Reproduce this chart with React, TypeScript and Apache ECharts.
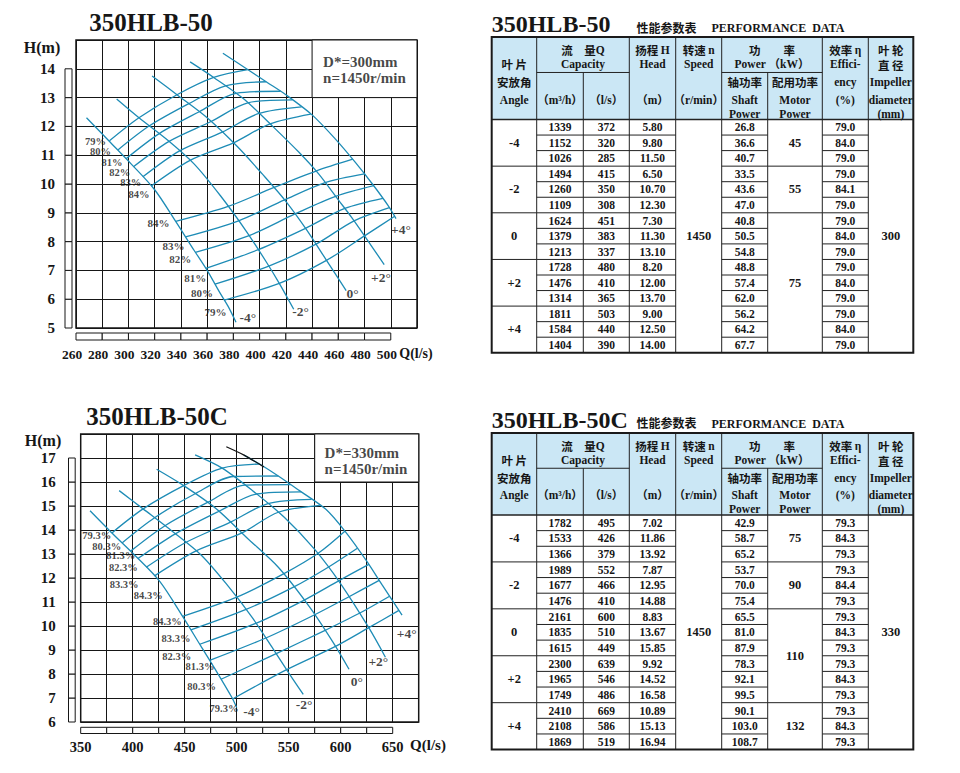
import React, { useEffect, useRef } from 'react';
import * as echarts from 'echarts';

const BLUE = '#1e8cb6';
const INK = '#161616';
const SERIF = '"Liberation Serif", "Times New Roman", "DejaVu Serif", serif';
const CJK = '"Noto Sans CJK SC", "Noto Sans", sans-serif';

/* ================= Chart 1 : 350HLB-50 ================= */
const c1Title = '350HLB-50';
const c1Legend = ['D*=300mm', 'n=1450r/min'];
const c1LegendAt = [[448, 14.22], [448, 13.68]];
const c1LegendBox = [[440, 13], [520, 15]];
const c1XRuler = [260, 280, 300, 320, 340, 360, 380, 400, 420, 440, 460, 480, 500];
const c1YRuler = [5, 6, 7, 8, 9, 10, 11, 12, 13, 14];

const c1BladeM4 = [[268, 12.3], [285, 11.5], [302, 10.7], [320, 9.8], [336, 8.7], [350, 7.7], [360, 7.0], [370, 6.2], [376, 5.75], [382, 5.2]];
const c1BladeM2 = [[291, 12.95], [308, 12.3], [330, 11.52], [350, 10.7], [370, 9.6], [390, 8.35], [405, 7.3], [415, 6.55], [426, 5.65]];
const c1Blade0 = [[318, 13.75], [337, 13.1], [360, 12.3], [383, 11.3], [402, 10.35], [420, 9.4], [436, 8.4], [451, 7.35], [466, 6.3]];
const c1BladeP2 = [[347, 14.24], [365, 13.7], [388, 12.95], [410, 12.0], [430, 11.1], [445, 10.35], [460, 9.45], [470, 8.85], [480, 8.2], [495, 7.2]];
const c1BladeP4 = [[372, 14.54], [390, 14.0], [405, 13.55], [420, 13.1], [440, 12.4], [458, 11.55], [473, 10.75], [486, 10.0], [498, 9.25], [504, 8.8]];
const c1Blades = [c1BladeM4, c1BladeM2, c1Blade0, c1BladeP2, c1BladeP4];
const c1BladeNames = ['-4°', '-2°', '0°', '+2°', '+4°'];
const c1BladeLabelAt = [[391, 5.35], [431.3, 5.57], [470.8, 6.2], [492.5, 6.76], [507.8, 8.43]];

const c1EffU79 = [[285.5, 11.5], [308, 12.3], [337, 13.1], [365, 13.7], [391, 13.97]];
const c1EffU80 = [[291.9, 11.18], [316, 12.02], [346, 12.79], [374, 13.41], [405, 13.55]];
const c1EffU81 = [[298.2, 10.88], [323.5, 11.75], [354, 12.51], [382, 13.15], [416, 13.22]];
const c1EffU82 = [[303.8, 10.6], [331, 11.48], [363, 12.17], [391, 12.82], [425, 12.92]];
const c1EffU83 = [[311, 10.25], [339, 11.15], [371.5, 11.8], [399.5, 12.45], [432, 12.68]];
const c1EffU84 = [[317.4, 9.93], [347, 10.82], [380, 11.43], [408, 12.09], [439, 12.43]];
const c1EffUpper = [c1EffU79, c1EffU80, c1EffU81, c1EffU82, c1EffU83, c1EffU84];
const c1EffUpperNames = ['79%', '80%', '81%', '82%', '83%', '84%'];
const c1EffUpperLabelAt = [[274.9, 11.49], [278.7, 11.13], [287.5, 10.76], [293.3, 10.4], [301.7, 10.05], [308, 9.65]];

const c1EffL84 = [[336, 8.7], [376, 9.22], [411, 9.88], [443, 10.45], [471, 10.86]];
const c1EffL83 = [[343.5, 8.16], [384, 8.72], [419, 9.45], [450, 10.05], [480, 10.35]];
const c1EffL82 = [[351, 7.63], [392, 8.21], [427, 8.96], [458, 9.57], [487, 9.94]];
const c1EffL81 = [[359, 7.07], [399, 7.72], [435, 8.46], [465, 9.15], [494, 9.5]];
const c1EffL80 = [[366, 6.52], [407, 7.15], [443, 7.91], [472, 8.72], [499, 9.18]];
const c1EffL79 = [[373, 5.97], [415, 6.55], [451, 7.35], [480, 8.2], [503, 8.88]];
const c1EffLower = [c1EffL84, c1EffL83, c1EffL82, c1EffL81, c1EffL80, c1EffL79];
const c1EffLowerNames = ['84%', '83%', '82%', '81%', '80%', '79%'];
const c1EffLowerLabelAt = [[322.9, 8.66], [334.4, 7.85], [339.5, 7.39], [351, 6.73], [356.1, 6.23], [366.3, 5.57]];

/* ================= Chart 2 : 350HLB-50C ================= */
const c2Title = '350HLB-50C';
const c2Legend = ['D*=330mm', 'n=1450r/min'];
const c2LegendAt = [[584, 17.21], [584, 16.54]];
const c2LegendBox = [[575, 16], [675, 18]];
const c2XRuler = [350, 375, 400, 425, 450, 475, 500, 525, 550, 575, 600, 625, 650];
const c2YRuler = [6, 7, 8, 9, 10, 11, 12, 13, 14, 15, 16, 17];

const c2BladeM4 = [[359, 14.8], [379, 13.92], [402, 12.95], [426, 11.86], [448, 10.4], [465, 9.2], [480, 8.15], [495, 7.05], [500, 6.6]];
const c2BladeM2 = [[387, 15.64], [410, 14.88], [438, 13.95], [466, 12.95], [492, 11.65], [515, 10.35], [535, 9.05], [550, 8.05], [564, 7.15]];
const c2Blade0 = [[423, 16.53], [449, 15.85], [480, 14.9], [510, 13.67], [540, 12.45], [570, 10.8], [593, 9.3], [608, 8.2]];
const c2BladeP2 = [[460, 17.13], [486, 16.58], [515, 15.65], [546, 14.52], [575, 13.19], [600, 11.76], [627, 9.93], [643, 8.7]];
const c2BladeP4 = [[507, 17.12], [522, 16.75], [540, 16.25], [560, 15.65], [586, 14.85], [605, 13.9], [625, 12.7], [640, 11.7], [659, 10.45]];
const c2Blades = [c2BladeM4, c2BladeM2, c2Blade0, c2BladeP2, c2BladeP4];
const c2BladeTop = [[490, 17.47], [507, 17.12], [526, 16.63]];
const c2BladeNames = ['-4°', '-2°', '0°', '+2°', '+4°'];
const c2BladeLabelAt = [[514.4, 6.43], [564.7, 6.71], [615.4, 7.68], [636.2, 8.51], [663.5, 9.7]];

const c2EffU79 = [[380, 13.88], [410, 14.88], [449, 15.85], [486, 16.58], [522, 16.75]];
const c2EffU80 = [[390, 13.47], [421, 14.51], [460, 15.51], [497, 16.23], [540, 16.25]];
const c2EffU81 = [[398, 13.12], [431, 14.18], [472, 15.15], [508, 15.87], [552, 15.89]];
const c2EffU82 = [[405, 12.81], [441, 13.84], [483, 14.78], [519, 15.5], [562, 15.59]];
const c2EffU83 = [[413, 12.45], [451, 13.48], [494, 14.33], [530, 15.1], [572, 15.28]];
const c2EffU84 = [[421, 12.09], [461, 13.13], [505, 13.88], [540, 14.74], [580, 15.03]];
const c2EffUpper = [c2EffU79, c2EffU80, c2EffU81, c2EffU82, c2EffU83, c2EffU84];
const c2EffUpperNames = ['79.3%', '80.3%', '81.3%', '82.3%', '83.3%', '84.3%'];
const c2EffUpperLabelAt = [[365.4, 13.78], [375, 13.33], [388.5, 12.93], [391, 12.42], [391.8, 11.72], [415, 11.26]];

const c2EffL84 = [[448, 10.4], [500, 11.2], [545, 12.17], [578, 13.02], [604, 13.95]];
const c2EffL83 = [[456, 9.84], [509, 10.69], [555, 11.63], [588, 12.45], [616, 13.24]];
const c2EffL82 = [[464.5, 9.24], [519, 10.12], [565, 11.08], [598, 11.88], [627, 12.57]];
const c2EffL81 = [[474, 8.57], [528, 9.5], [575, 10.47], [608, 11.22], [637, 11.9]];
const c2EffL80 = [[485, 7.78], [538, 8.85], [585, 9.82], [618, 10.53], [647, 11.24]];
const c2EffL79 = [[496, 6.96], [548, 8.18], [595, 9.15], [627, 9.93], [656, 10.65]];
const c2EffLower = [c2EffL84, c2EffL83, c2EffL82, c2EffL81, c2EffL80, c2EffL79];
const c2EffLowerNames = ['84.3%', '83.3%', '82.3%', '81.3%', '80.3%', '79.3%'];
const c2EffLowerLabelAt = [[433.3, 10.18], [441.6, 9.49], [442.3, 8.72], [464.7, 8.3], [466.3, 7.47], [487.8, 6.57]];

/* ================= Tables ================= */
const tAngles = ['-4', '-2', '0', '+2', '+4'];

const t1Title = '350HLB-50';
const t1FlowM3h = ['1339', '1152', '1026', '1494', '1260', '1109', '1624', '1379', '1213', '1728', '1476', '1314', '1811', '1584', '1404'];
const t1FlowLs = ['372', '320', '285', '415', '350', '308', '451', '383', '337', '480', '410', '365', '503', '440', '390'];
const t1Head = ['5.80', '9.80', '11.50', '6.50', '10.70', '12.30', '7.30', '11.30', '13.10', '8.20', '12.00', '13.70', '9.00', '12.50', '14.00'];
const t1Shaft = ['26.8', '36.6', '40.7', '33.5', '43.6', '47.0', '40.8', '50.5', '54.8', '48.8', '57.4', '62.0', '56.2', '64.2', '67.7'];
const t1Eff = ['79.0', '84.0', '79.0', '79.0', '84.1', '79.0', '79.0', '84.0', '79.0', '79.0', '84.0', '79.0', '79.0', '84.0', '79.0'];
const t1Motor = ['45', '55', '75'];
const t1MotorRows = [3, 3, 9];
const t1Speed = '1450';
const t1Impeller = '300';

const t2Title = '350HLB-50C';
const t2FlowM3h = ['1782', '1533', '1366', '1989', '1677', '1476', '2161', '1835', '1615', '2300', '1965', '1749', '2410', '2108', '1869'];
const t2FlowLs = ['495', '426', '379', '552', '466', '410', '600', '510', '449', '639', '546', '486', '669', '586', '519'];
const t2Head = ['7.02', '11.86', '13.92', '7.87', '12.95', '14.88', '8.83', '13.67', '15.85', '9.92', '14.52', '16.58', '10.89', '15.13', '16.94'];
const t2Shaft = ['42.9', '58.7', '65.2', '53.7', '70.0', '75.4', '65.5', '81.0', '87.9', '78.3', '92.1', '99.5', '90.1', '103.0', '108.7'];
const t2Eff = ['79.3', '84.3', '79.3', '79.3', '84.4', '79.3', '79.3', '84.3', '79.3', '79.3', '84.3', '79.3', '79.3', '84.3', '79.3'];
const t2Motor = ['75', '90', '110', '132'];
const t2MotorRows = [3, 3, 6, 3];
const t2Speed = '1450';
const t2Impeller = '330';

/* ---------- helpers ---------- */
const TCOLS = [491.7, 536.7, 583.3, 629.3, 675.7, 721.7, 767.7, 822.3, 868.3, 913.3];
const F_DATA = `bold 11.5px ${SERIF}`;
const F_EN = `bold 11.5px ${SERIF}, "Noto Sans CJK SC"`;
const F_CN = `bold 11.5px ${CJK}`;

function gText(x: number, y: number, text: string, font: string, align = 'center'): any {
  return { type: 'text', x, y, silent: true, style: { text, font, fill: INK, align, verticalAlign: 'middle' } };
}
function gRich(x: number, y: number, cn: string, en: string): any {
  return {
    type: 'text', x, y, silent: true,
    style: {
      text: `{a|${cn}}{b|${en}}`, align: 'center', verticalAlign: 'middle',
      rich: { a: { font: F_CN, fill: INK }, b: { font: F_EN, fill: INK } },
    },
  };
}
function gLine(x1: number, y1: number, x2: number, y2: number, w = 1): any {
  return { type: 'line', silent: true, shape: { x1, y1, x2, y2 }, style: { stroke: '#222', lineWidth: w } };
}

function buildTable(top: number, headBottom: number, rowH: number, titleY: number, title: string,
  m3h: string[], ls: string[], head: string[], shaft: string[], eff: string[],
  motor: string[], motorRows: number[], speed: string, impeller: string): any[] {
  const els: any[] = [];
  const C = TCOLS;
  const left = C[0], right = C[9];
  const dataTop = headBottom;
  const headH = headBottom - top;
  const bottom = dataTop + rowH * 15;
  const innerY = top + headH * 0.43;
  const cx = (i: number) => (C[i] + C[i + 1]) / 2;
  const L = [0.155, 0.325, 0.545, 0.76, 0.93].map((v) => top + v * headH);

  els.push(gText(left, titleY, title, `bold 24px ${SERIF}`, 'left'));
  els.push(gText(636.5, titleY + 3, '性能参数表', `bold 12px ${CJK}`, 'left'));
  els.push(gText(711.5, titleY + 4, 'PERFORMANCE  DATA', `bold 12px ${SERIF}`, 'left'));

  els.push({ type: 'rect', silent: true, shape: { x: left, y: top, width: right - left, height: headH }, style: { fill: '#cbe7f5' } });
  for (let i = 1; i < 9; i++) {
    const y1 = i === 2 || i === 6 ? innerY : top;
    els.push(gLine(C[i], y1, C[i], bottom));
  }
  els.push(gLine(C[1], innerY, C[3], innerY));
  els.push(gLine(C[5], innerY, C[7], innerY));
  els.push(gLine(left, dataTop, right, dataTop, 1.3));
  for (let r = 1; r < 15; r++) {
    const y = dataTop + r * rowH;
    els.push(gLine(C[1], y, C[4], y));
    els.push(gLine(C[5], y, C[6], y));
    els.push(gLine(C[7], y, C[8], y));
    if (r % 3 === 0) els.push(gLine(C[0], y, C[1], y));
  }
  let acc = 0;
  motorRows.forEach((n, i) => {
    acc += n;
    if (i < motorRows.length - 1) els.push(gLine(C[6], dataTop + acc * rowH, C[7], dataTop + acc * rowH));
  });
  els.push({ type: 'rect', silent: true, shape: { x: left, y: top, width: right - left, height: bottom - top }, style: { fill: 'none', stroke: '#1a1a1a', lineWidth: 2 } });

  const capX = (C[1] + C[3]) / 2;
  const powX = (C[5] + C[7]) / 2;
  els.push(gText(cx(0), L[1], '叶 片', F_CN));
  els.push(gText(cx(0), L[2], '安放角', F_CN));
  els.push(gText(cx(0), L[3], 'Angle', F_EN));
  els.push(gRich(capX, L[0], '流　量', 'Q'));
  els.push(gText(capX, L[1], 'Capacity', F_EN));
  els.push(gText(cx(1), L[3], '（m³/h）', F_EN));
  els.push(gText(cx(2), L[3], '（l/s）', F_EN));
  els.push(gRich(cx(3), L[0], '扬程 ', 'H'));
  els.push(gText(cx(3), L[1], 'Head', F_EN));
  els.push(gText(cx(3), L[3], '（m）', F_EN));
  els.push(gRich(cx(4), L[0], '转速 ', 'n'));
  els.push(gText(cx(4), L[1], 'Speed', F_EN));
  els.push(gText(cx(4), L[3], '（r/min）', F_EN));
  els.push(gText(powX, L[0], '功　　率', F_CN));
  els.push(gText(powX, L[1], 'Power （kW）', F_EN));
  els.push(gText(cx(5), L[2], '轴功率', F_CN));
  els.push(gText(cx(5), L[3], 'Shaft', F_EN));
  els.push(gText(cx(5), L[4], 'Power', F_EN));
  els.push(gText(cx(6), L[2], '配用功率', F_CN));
  els.push(gText(cx(6), L[3], 'Motor', F_EN));
  els.push(gText(cx(6), L[4], 'Power', F_EN));
  els.push(gRich(cx(7), L[0], '效率 ', 'η'));
  els.push(gText(cx(7), L[1], 'Effici-', F_EN));
  els.push(gText(cx(7), L[2], 'ency', F_EN));
  els.push(gText(cx(7), L[3], '(%)', F_EN));
  els.push(gText(cx(8), L[0], '叶 轮', F_CN));
  els.push(gText(cx(8), L[1] + 1, '直 径', F_CN));
  els.push(gText(cx(8), L[2], 'Impeller', F_EN));
  els.push(gText(cx(8), L[3], 'diameter', F_EN));
  els.push(gText(cx(8), L[4], '(mm)', F_EN));

  for (let r = 0; r < 15; r++) {
    const y = dataTop + (r + 0.5) * rowH;
    els.push(gText(cx(1), y, m3h[r], F_DATA));
    els.push(gText(cx(2), y, ls[r], F_DATA));
    els.push(gText(cx(3), y, head[r], F_DATA));
    els.push(gText(cx(5), y, shaft[r], F_DATA));
    els.push(gText(cx(7), y, eff[r], F_DATA));
  }
  tAngles.forEach((a, g) => els.push(gText(cx(0), dataTop + (g * 3 + 1.5) * rowH, a, `bold 12.5px ${SERIF}`)));
  els.push(gText(cx(4), dataTop + 7.5 * rowH, speed, `bold 12.5px ${SERIF}`));
  els.push(gText(cx(8), dataTop + 7.5 * rowH, impeller, `bold 12.5px ${SERIF}`));
  let start = 0;
  motor.forEach((m, i) => {
    const n = motorRows[i];
    els.push(gText(cx(6), dataTop + (start + n / 2) * rowH, m, `bold 12.5px ${SERIF}`));
    start += n;
  });
  return els;
}

function curve(data: number[][], gi: number, color = BLUE, width = 1.3, z = 3): any {
  return {
    type: 'line', xAxisIndex: gi, yAxisIndex: gi, data, smooth: 0.3,
    symbol: 'none', showSymbol: false, silent: true, z,
    lineStyle: { color, width },
  };
}

function ruler(gi: number, ticks: number[], dir: 'x' | 'y', fixed: number, off: number, size: number): any {
  const data = ticks.slice(0, -1).map((t, i) => [t, ticks[i + 1]]);
  return {
    type: 'custom', xAxisIndex: gi, yAxisIndex: gi, clip: false, silent: true, data,
    renderItem: (_p: any, api: any) => {
      const a = api.value(0), b = api.value(1);
      if (dir === 'y') {
        const p1 = api.coord([fixed, a]);
        const p2 = api.coord([fixed, b]);
        return { type: 'rect', shape: { x: p1[0] - off - size, y: p2[1], width: size, height: p1[1] - p2[1] }, style: { fill: '#fff', stroke: INK, lineWidth: 1 } };
      }
      const p1 = api.coord([a, fixed]);
      const p2 = api.coord([b, fixed]);
      return { type: 'rect', shape: { x: p1[0], y: p1[1] + off, width: p2[0] - p1[0], height: size }, style: { fill: '#fff', stroke: INK, lineWidth: 1 } };
    },
  };
}

function annotations(gi: number, effSize: number, items: any[], box: number[][]): any {
  return {
    type: 'scatter', xAxisIndex: gi, yAxisIndex: gi, symbolSize: 1, silent: true, z: 6,
    itemStyle: { color: 'transparent' },
    label: {
      show: true, position: 'inside', formatter: (p: any) => p.value[2],
      fontFamily: SERIF, fontWeight: 'bold', fontSize: effSize, color: INK,
    },
    data: items,
    markArea: {
      silent: true,
      itemStyle: { color: '#fff', borderColor: INK, borderWidth: 1 },
      label: { show: false },
      data: [[{ coord: box[0] }, { coord: box[1] }]],
    },
  };
}

function labelItems(at: number[][], names: string[], extra: any = {}) {
  return at.map((p, i) => ({ value: [p[0], p[1], names[i]], label: extra }));
}

function axisFont(size: number) {
  return { fontFamily: SERIF, fontWeight: 'bold', fontSize: size, color: INK };
}

function buildOption(): any {
  const series: any[] = [];
  series.push(ruler(0, c1YRuler, 'y', 260, 4, 7));
  series.push(ruler(0, c1XRuler, 'x', 5, 5, 7));
  series.push(ruler(1, c2YRuler, 'y', 350, 5.5, 6.7));
  series.push(ruler(1, c2XRuler, 'x', 6, 5.3, 6.2));
  c1Blades.forEach((d) => series.push(curve(d, 0)));
  c1EffUpper.forEach((d) => series.push(curve(d, 0)));
  c1EffLower.forEach((d) => series.push(curve(d, 0)));
  c2Blades.forEach((d) => series.push(curve(d, 1)));
  c2EffUpper.forEach((d) => series.push(curve(d, 1)));
  c2EffLower.forEach((d) => series.push(curve(d, 1)));
  series.push(curve(c2BladeTop, 1, '#111', 1.2, 4));

  const legendLabel = { position: 'right', distance: 0, fontSize: 15 };
  const bladeLabel = { fontSize: 13.5 };
  series.push(annotations(0, 10.5, [
    ...labelItems(c1EffUpperLabelAt, c1EffUpperNames),
    ...labelItems(c1EffLowerLabelAt, c1EffLowerNames, { fontSize: 11 }),
    ...labelItems(c1BladeLabelAt, c1BladeNames, bladeLabel),
    ...labelItems(c1LegendAt, c1Legend, legendLabel),
  ], c1LegendBox));
  series.push(annotations(1, 10.5, [
    ...labelItems(c2EffUpperLabelAt, c2EffUpperNames),
    ...labelItems(c2EffLowerLabelAt, c2EffLowerNames),
    ...labelItems(c2BladeLabelAt, c2BladeNames, bladeLabel),
    ...labelItems(c2LegendAt, c2Legend, legendLabel),
  ], c2LegendBox));

  const splitLine = { show: true, lineStyle: { color: INK, width: 1 } };
  const graphic: any[] = [
    gText(151, 22, c1Title, `bold 25px ${SERIF}`),
    gText(157, 416, c2Title, `bold 25px ${SERIF}`),
    gText(42, 47, 'H(m)', `bold 16px ${SERIF}`),
    gText(43, 440, 'H(m)', `bold 16px ${SERIF}`),
    gText(416, 353, 'Q(l/s)', `bold 14px ${SERIF}`),
    gText(428, 745, 'Q(l/s)', `bold 15px ${SERIF}`),
    ...buildTable(37, 119.5, 15.55, 24, t1Title, t1FlowM3h, t1FlowLs, t1Head, t1Shaft, t1Eff, t1Motor, t1MotorRows, t1Speed, t1Impeller),
    ...buildTable(433, 515, 15.64, 419.5, t2Title, t2FlowM3h, t2FlowLs, t2Head, t2Shaft, t2Eff, t2Motor, t2MotorRows, t2Speed, t2Impeller),
  ];

  return {
    animation: false,
    backgroundColor: '#fff',
    grid: [
      { left: 76, top: 40, width: 341, height: 288, show: true, borderColor: INK, borderWidth: 1.5 },
      { left: 80.7, top: 434, width: 338, height: 288, show: true, borderColor: INK, borderWidth: 1.5 },
    ],
    xAxis: [
      {
        type: 'value', gridIndex: 0, min: 260, max: 520, interval: 20,
        axisLine: { show: false }, axisTick: { show: false }, splitLine,
        axisLabel: { margin: 19, padding: [0, 8, 0, 0], formatter: (v: number) => (v <= 500 ? String(v) : ''), ...axisFont(13.5) },
      },
      {
        type: 'value', gridIndex: 1, min: 350, max: 675, interval: 25,
        axisLine: { show: false }, axisTick: { show: false }, splitLine,
        axisLabel: { margin: 17, formatter: (v: number) => (v % 50 === 0 && v <= 650 ? String(v) : ''), ...axisFont(14.5) },
      },
    ],
    yAxis: [
      {
        type: 'value', gridIndex: 0, min: 5, max: 15, interval: 1,
        axisLine: { show: false }, axisTick: { show: false }, splitLine,
        axisLabel: { margin: 21, formatter: (v: number) => (v <= 14 ? String(v) : ''), ...axisFont(15) },
      },
      {
        type: 'value', gridIndex: 1, min: 6, max: 18, interval: 1,
        axisLine: { show: false }, axisTick: { show: false }, splitLine,
        axisLabel: { margin: 25, formatter: (v: number) => (v <= 17 ? String(v) : ''), ...axisFont(15) },
      },
    ],
    series,
    graphic,
  };
}

export default function App() {
  const ref = useRef<HTMLDivElement>(null);
  useEffect(() => {
    document.body.style.margin = '0';
    const chart = echarts.init(ref.current as HTMLDivElement, null, { renderer: 'svg' });
    chart.setOption(buildOption());
    return () => chart.dispose();
  }, []);
  return <div ref={ref} style={{ width: 960, height: 773, background: '#fff' }} />;
}
